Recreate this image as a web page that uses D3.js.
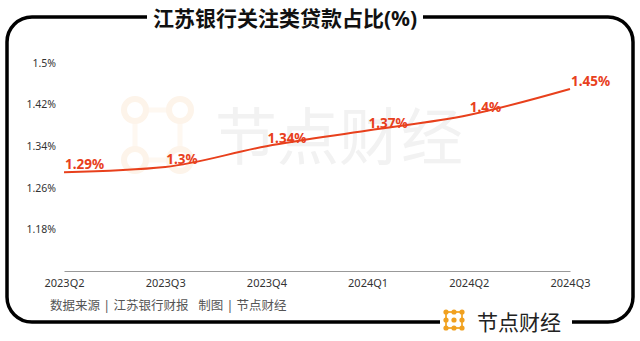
<!DOCTYPE html>
<html>
<head>
<meta charset="utf-8">
<script src="https://cdn.jsdelivr.net/npm/d3@7"></script>
<style>
  html, body { margin: 0; padding: 0; background: #fff; }
  svg { display: block; }
</style>
</head>
<body>
<div id="chart"></div>
<script>
const quarters = ['2023Q2', '2023Q3', '2023Q4', '2024Q1', '2024Q2', '2024Q3'];
const ratios = [1.29, 1.30, 1.34, 1.37, 1.40, 1.45];
const yTicks = [1.18, 1.26, 1.34, 1.42, 1.5];
const title = '江苏银行关注类贷款占比(%)';
const source = '数据来源 | 江苏银行财报   制图 | 节点财经';
const brand = '节点财经';

const width = 640, height = 341;
const font = '"Noto Sans", "Noto Sans CJK SC", sans-serif';
const red = '#e8401c';

const svg = d3.select('#chart').append('svg')
  .attr('width', width)
  .attr('height', height);

// watermark
const wm = svg.append('g');
wm.append('path')
  .attr('d', 'M135,110 H180 M135,160 H180 M135,110 V160 M180,110 V160')
  .attr('stroke', '#fef8f1').attr('stroke-width', 5).attr('fill', 'none');
[[135, 110], [180, 110], [135, 160], [180, 160]].forEach(p => {
  wm.append('circle').attr('cx', p[0]).attr('cy', p[1]).attr('r', 11)
    .attr('fill', '#fff').attr('stroke', '#fdf4ea').attr('stroke-width', 6);
});
wm.append('text')
  .attr('x', 215).attr('y', 160)
  .attr('font-family', font)
  .attr('font-size', 62)
  .attr('fill', '#f2f2f2')
  .text(brand);

// frame
const L = 7, R = 633, T = 17, B = 322, r = 25;
const frame = svg.append('g')
  .attr('fill', 'none').attr('stroke', '#000').attr('stroke-width', 3.5);
frame.append('path').attr('d',
  `M423,${T} H${R - r} A${r},${r} 0 0 1 ${R},${T + r} V${B - r} A${r},${r} 0 0 1 ${R - r},${B} H572`);
frame.append('path').attr('d',
  `M440,${B} H${L + r} A${r},${r} 0 0 1 ${L},${B - r} V${T + r} A${r},${r} 0 0 1 ${L + r},${T} H147`);

svg.append('text')
  .attr('x', 285).attr('y', 26)
  .attr('text-anchor', 'middle')
  .attr('font-family', font)
  .attr('font-size', 21)
  .attr('font-weight', 'bold')
  .attr('fill', '#111')
  .text(title);

const x = d3.scalePoint().domain(quarters).range([64, 570]);
const y = d3.scaleLinear().domain([1.10, 1.50]).range([271, 63]);

const yAxis = svg.append('g')
  .attr('transform', 'translate(56,0)')
  .call(d3.axisLeft(y).tickValues(yTicks).tickSize(0).tickPadding(0).tickFormat(d => d + '%'));
yAxis.select('.domain').remove();
yAxis.selectAll('text')
  .attr('font-family', font).attr('font-size', 10.5).attr('fill', '#333');

const xAxis = svg.append('g')
  .attr('transform', 'translate(0,271)')
  .call(d3.axisBottom(x).tickSize(0).tickPadding(8));
xAxis.select('.domain').attr('stroke', '#999').attr('stroke-width', 1.2);
xAxis.selectAll('text')
  .attr('font-family', font).attr('font-size', 11).attr('fill', '#333');

const line = d3.line()
  .x((d, i) => x(quarters[i]))
  .y(d => y(d))
  .curve(d3.curveMonotoneX);

svg.append('path')
  .datum(ratios)
  .attr('d', line)
  .attr('fill', 'none')
  .attr('stroke', red)
  .attr('stroke-width', 2);

svg.selectAll('.lbl')
  .data(ratios)
  .enter()
  .append('text')
  .attr('class', 'lbl')
  .attr('x', (d, i) => x(quarters[i]) + 1)
  .attr('y', d => y(d) - 3)
  .attr('font-family', font)
  .attr('font-size', 13.5)
  .attr('font-weight', 'bold')
  .attr('fill', red)
  .text(d => d + '%');

svg.append('text')
  .attr('x', 50).attr('y', 310)
  .attr('font-family', font)
  .attr('font-size', 12.5)
  .attr('fill', '#555')
  .attr('xml:space', 'preserve')
  .style('white-space', 'pre')
  .text(source);

// bottom logo
const logo = svg.append('g').attr('transform', 'translate(446,312)');
const pts = [0, 8, 16];
logo.append('path')
  .attr('d', 'M0,0 H16 M0,16 H16 M0,0 V16 M16,0 V16')
  .attr('stroke', '#f4b03c').attr('stroke-width', 2).attr('fill', 'none');
pts.forEach(a => pts.forEach(b => {
  logo.append('circle').attr('cx', a).attr('cy', b).attr('r', 2.6).attr('fill', '#f0a020');
}));
svg.append('text')
  .attr('x', 477).attr('y', 330)
  .attr('font-family', font)
  .attr('font-size', 21)
  .attr('fill', '#222')
  .text(brand);
</script>
</body>
</html>
